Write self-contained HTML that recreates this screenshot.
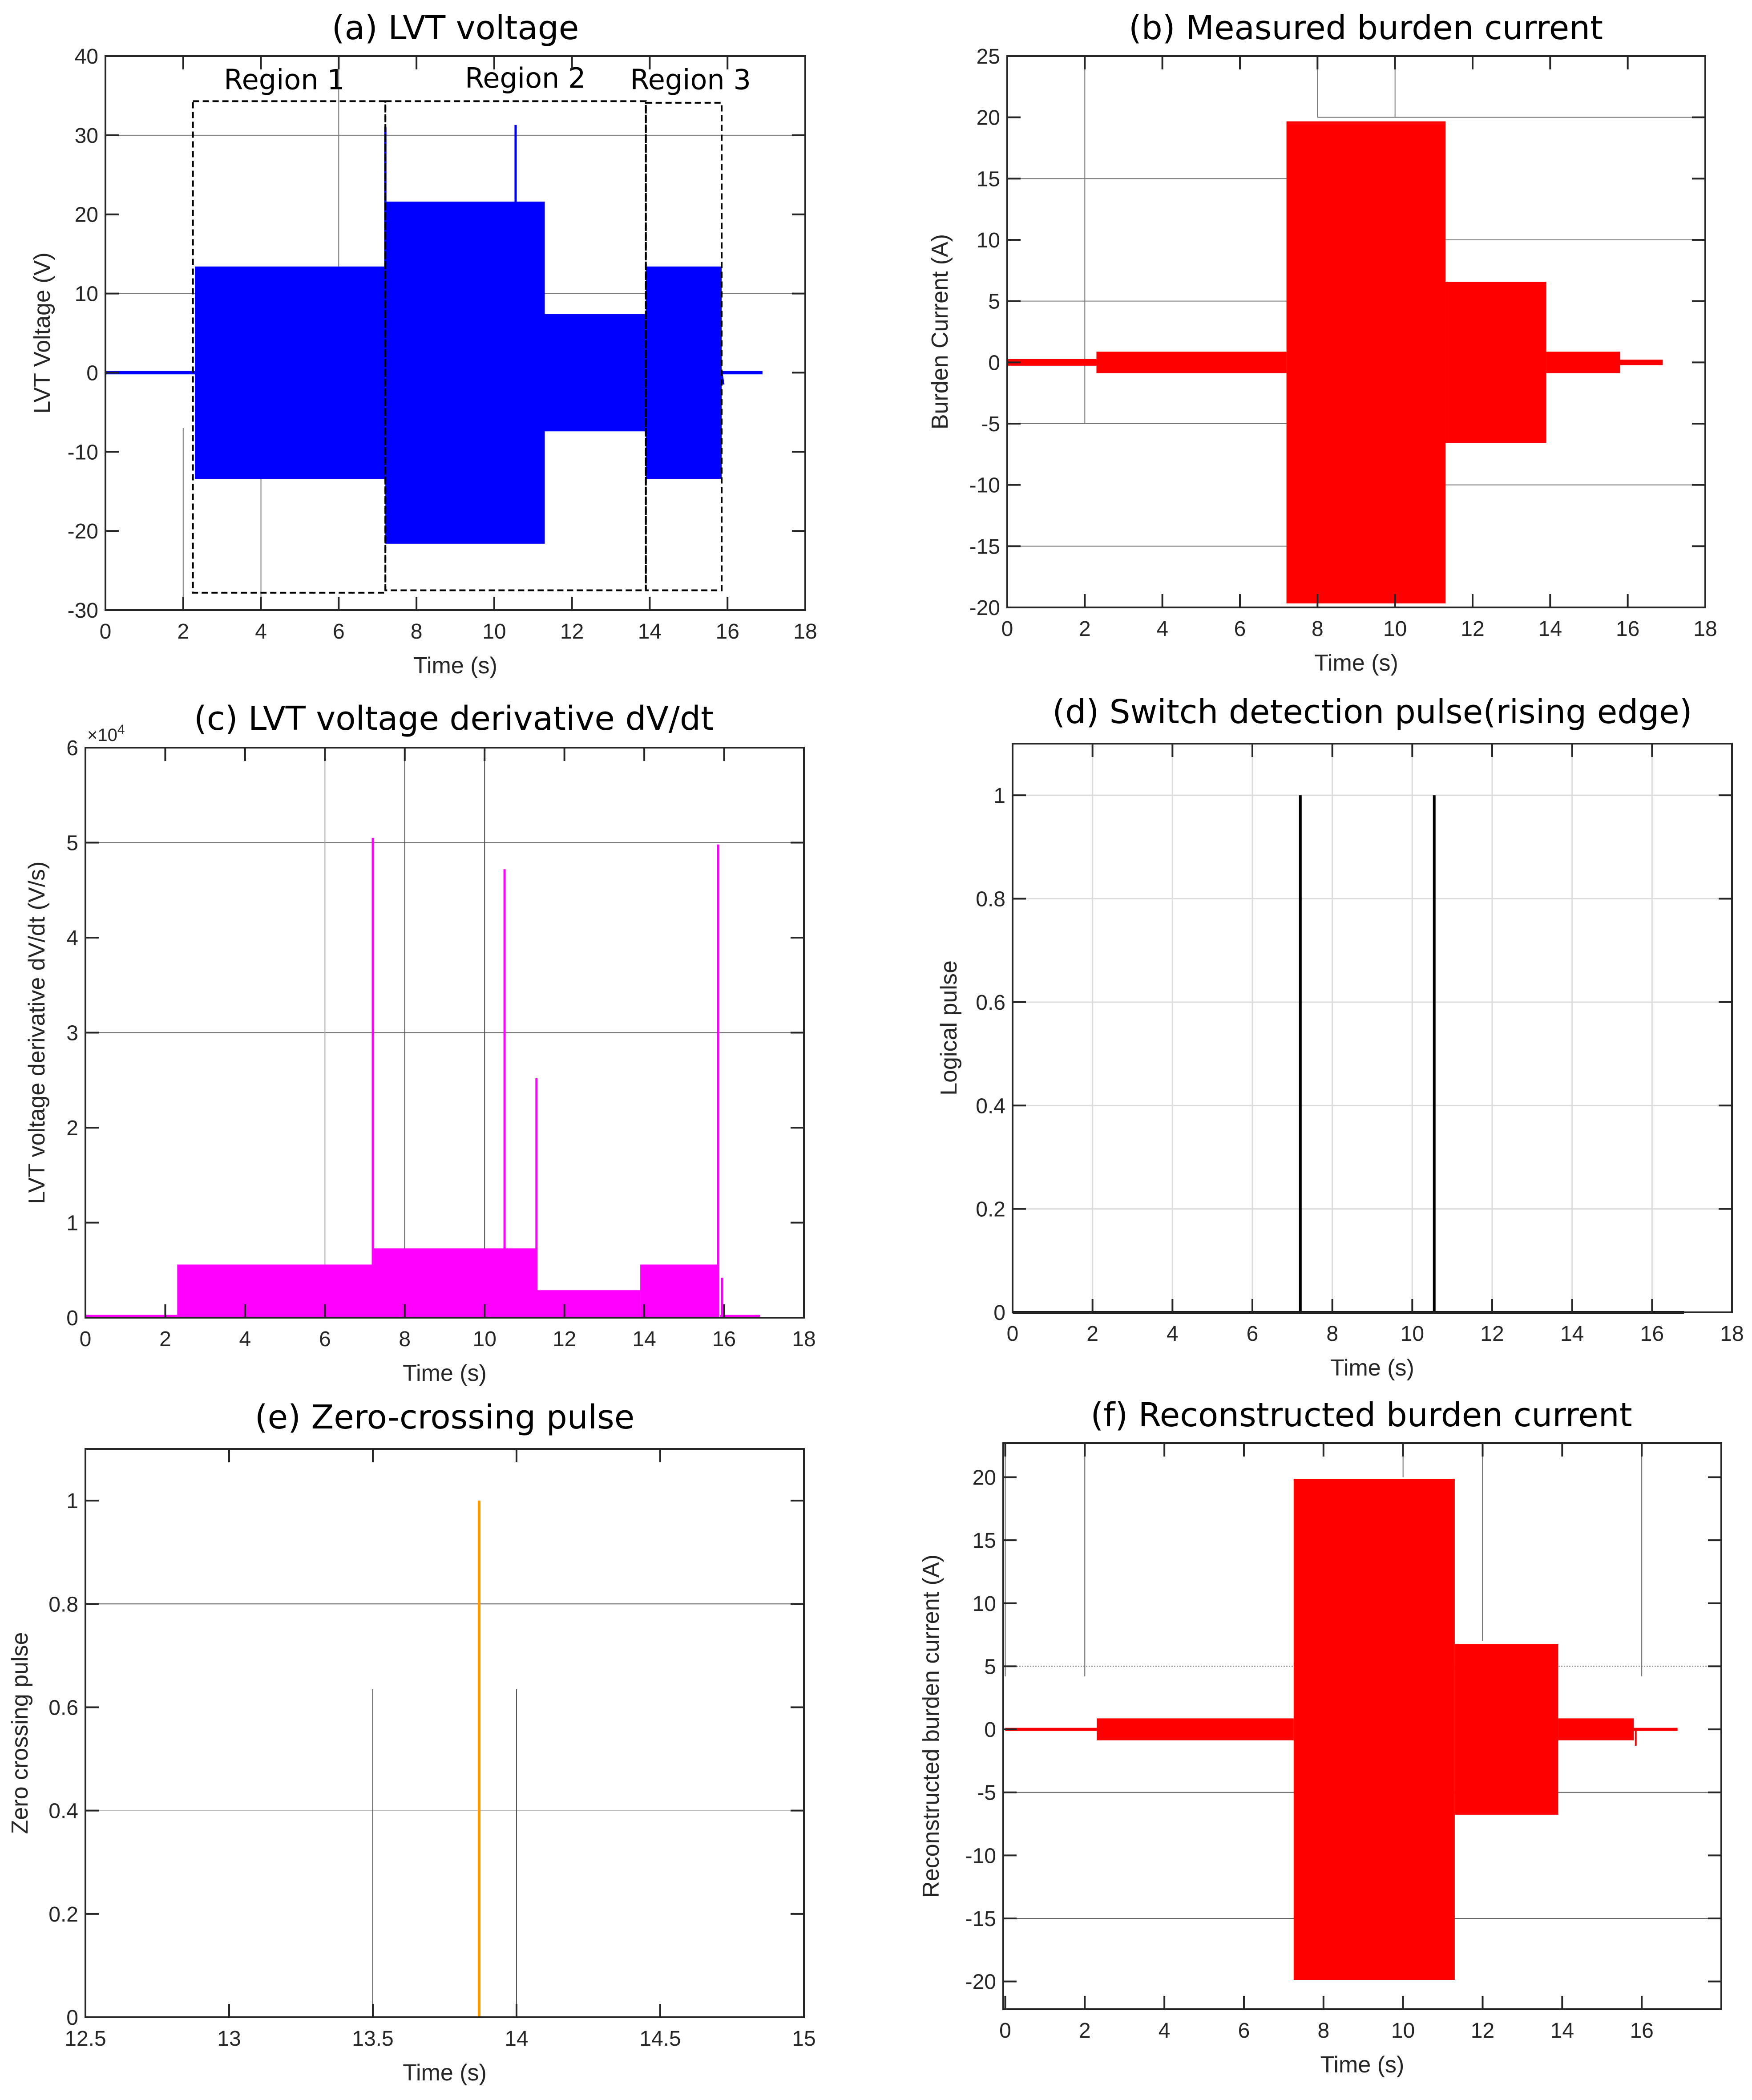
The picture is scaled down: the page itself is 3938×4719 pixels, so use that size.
<!DOCTYPE html>
<html><head><meta charset="utf-8"><style>
html,body{margin:0;padding:0;background:#fff}
svg{display:block}
text{font-family:"Liberation Sans",sans-serif;fill:#262626}
.t{font-family:"DejaVu Sans","Liberation Sans",sans-serif;fill:#000}
</style></head><body>
<svg id="fig" width="3938" height="4719" viewBox="0 0 3938 4719" xmlns="http://www.w3.org/2000/svg"></svg>
<script>
// ---- panel (a) data ----
const aSegStart=[0,2.3,7.2,11.3,13.9,15.85];
const aSegEnd=[2.3,7.2,11.3,13.9,15.85,16.9];
const aSegAmp=[0.1,13.3,21.5,7.3,13.3,0.1];
const aSpikeX=[7.2,10.55];
const aSpikeY=[31,31.3];
// ---- panel (b) data ----
const bSegStart=[0,2.3,7.2,11.3,13.9,15.8];
const bSegEnd=[2.3,7.2,11.3,13.9,15.8,16.9];
const bSegAmp=[0.2,0.8,19.6,6.5,0.8,0.15];
// ---- panel (c) data ----
const cSegStart=[0,2.3,7.2,11.3,13.9,15.9];
const cSegEnd=[2.3,7.2,11.3,13.9,15.85,16.9];
const cSegVal=[0.02,0.55,0.72,0.28,0.55,0.02];
const cSpikeX=[7.2,10.5,11.3,15.85,15.95];
const cSpikeY=[5.05,4.72,2.52,4.98,0.42];
// ---- panel (d) data ----
const dPulseX=[7.2,10.55];
const dPulseY=[1,1];
const dEnd=16.8;
// ---- panel (e) data ----
const ePulseX=[13.87];
const ePulseY=[1];
// ---- panel (f) data ----
const fSegStart=[0,2.3,7.25,11.3,13.9,15.8];
const fSegEnd=[2.3,7.25,11.3,13.9,15.8,16.9];
const fSegAmp=[0.05,0.8,19.8,6.7,0.8,0.05];
// tick labels
const tickX18=[0,2,4,6,8,10,12,14,16,18];
const tickXf=[0,2,4,6,8,10,12,14,16];
const tickYa=[-30,-20,-10,0,10,20,30,40];
const tickYb=[-20,-15,-10,-5,0,5,10,15,20,25];
const tickYc=[0,1,2,3,4,5,6];
const tickYd=[0,0.2,0.4,0.6,0.8,1];
const tickXe=[12.5,13,13.5,14,14.5,15];
const tickYf=[-20,-15,-10,-5,0,5,10,15,20];

const NS='http://www.w3.org/2000/svg';
const svg=document.getElementById('fig');
function mk(tag,attrs,parent){const e=document.createElementNS(NS,tag);for(const k in attrs)e.setAttribute(k,attrs[k]);(parent||svg).appendChild(e);return e;}
function axes(o){
  const g=mk('g',{});
  
  
  const sx=v=>o.L+(v-o.x0)/(o.x1-o.x0)*(o.R-o.L);
  const sy=v=>o.B-(v-o.y0)/(o.y1-o.y0)*(o.B-o.T);
  o.sx=sx;o.sy=sy;o.g=g;
  if(o.fullGrid){
    o.xt.forEach(v=>{const l=mk('line',{x1:sx(v),x2:sx(v),y1:o.T,y2:o.B,stroke:'#dcdcdc','stroke-width':3},g);});
    o.yt.forEach(v=>{const l=mk('line',{x1:o.L,x2:o.R,y1:sy(v),y2:sy(v),stroke:'#dcdcdc','stroke-width':3},g);});
  }
  return o;
}
function frame(o){
  const g=o.g;
  const r=mk('rect',{x:o.L,y:o.T,width:o.R-o.L,height:o.B-o.T,fill:'none',stroke:'#262626','stroke-width':4},g);
  
  
  const tl=30;
  o.xt.forEach((v,i)=>{const x=o.sx(v);
    mk('line',{x1:x,x2:x,y1:o.B,y2:o.B-tl,stroke:'#262626','stroke-width':4},g);
    mk('line',{x1:x,x2:x,y1:o.T,y2:o.T+tl,stroke:'#262626','stroke-width':4},g);
    const t=mk('text',{x:x,y:o.B+64,'font-size':48,'text-anchor':'middle'},g);t.textContent=v;
    
    });
  o.yt.forEach(v=>{const y=o.sy(v);
    mk('line',{x1:o.L,x2:o.L+tl,y1:y,y2:y,stroke:'#262626','stroke-width':4},g);
    mk('line',{x1:o.R,x2:o.R-tl,y1:y,y2:y,stroke:'#262626','stroke-width':4},g);
    const t=mk('text',{x:o.L-16,y:y+17,'font-size':48,'text-anchor':'end'},g);t.textContent=v;
    
    });
  const xt=mk('text',{x:(o.L+o.R)/2,y:o.B+142,'font-size':52,'text-anchor':'middle'},g);xt.textContent='Time (s)';
  
  
  const yx=o.yLabelX, yy=(o.T+o.B)/2;
  const yt=mk('text',{x:yx,y:yy,'font-size':52,'text-anchor':'middle',transform:`rotate(-90 ${yx} ${yy})`},g);yt.textContent=o.ylab;
  
  
  const tt=mk('text',{x:o.titleX||(o.L+o.R)/2,y:o.titleY,'font-size':74,'text-anchor':'middle',class:'t'},g);tt.textContent=o.title;
  
  
}
function line(o,x1,y1,x2,y2,col,w,name,dash){const l=mk('line',{x1:o.sx(x1),y1:o.sy(y1),x2:o.sx(x2),y2:o.sy(y2),stroke:col,'stroke-width':w},o.g);if(dash)l.setAttribute('stroke-dasharray',dash);
  
  return l;}
function envelope(o,S,E,A,col,sym){
  S.forEach((s,i)=>{const lo=sym?-A[i]:0;const top=o.sy(A[i]),bot=o.sy(lo);
    const r=mk('rect',{x:o.sx(s),y:Math.min(top,bot)-2,width:Math.max(o.sx(E[i])-o.sx(s),2),height:Math.max(Math.abs(bot-top),3)+4,fill:col},o.g);
    
    });
}

// ---- (a) ----
const A=axes({name:'panel-a-lvt-voltage',L:237,R:1810,T:126,B:1371,x0:0,x1:18,y0:-30,y1:40,xt:tickX18,yt:tickYa,ylab:'LVT Voltage (V)',yLabelX:112,title:'(a) LVT voltage',titleY:88});
line(A,0,30,18,30,'#777',2,'ref-line');line(A,0,10,18,10,'#777',2,'ref-line');
line(A,6,40,6,13,'#777',2,'ref-line');line(A,4,-13,4,-30,'#777',2,'ref-line');line(A,2,-7,2,-30,'#777',2,'ref-line');
envelope(A,aSegStart,aSegEnd,aSegAmp,'#0000ff',true);
aSpikeX.forEach((x,i)=>line(A,x,0,x,aSpikeY[i],'#0000ff',5,'voltage-spike'));
line(A,15.85,0,15.9,-1.5,'#0000ff',4,'voltage-tail');
[[2.25,7.2,34.3,-27.8],[7.2,13.9,34.3,-27.5],[13.9,15.85,34.1,-27.5]].forEach(b=>{
  const r=mk('rect',{x:A.sx(b[0]),y:A.sy(b[2]),width:A.sx(b[1])-A.sx(b[0]),height:A.sy(b[3])-A.sy(b[2]),fill:'none',stroke:'#000','stroke-width':4,'stroke-dasharray':'14 8'},A.g);
  
  });
[['Region 1',4.6,35.8],['Region 2',10.8,36],['Region 3',15.05,35.8]].forEach(t=>{const e=mk('text',{x:A.sx(t[1]),y:A.sy(t[2]),'font-size':62,'text-anchor':'middle',class:'t'},A.g);e.textContent=t[0];
  
  });
frame(A);

// ---- (b) ----
const Bp=axes({name:'panel-b-measured-burden-current',L:2264,R:3833,T:126,B:1365,x0:0,x1:18,y0:-20,y1:25,xt:tickX18,yt:tickYb,ylab:'Burden Current (A)',yLabelX:2130,title:'(b) Measured burden current',titleY:88,titleX:3070});
line(Bp,8,20,18,20,'#777',2,'ref-line');line(Bp,0,15,7.2,15,'#777',2,'ref-line');line(Bp,11.3,10,18,10,'#777',2,'ref-line');
line(Bp,0,5,7.2,5,'#777',2,'ref-line');line(Bp,0,-5,7.2,-5,'#777',2,'ref-line');line(Bp,11.3,-10,18,-10,'#777',2,'ref-line');line(Bp,0,-15,7.2,-15,'#777',2,'ref-line');
line(Bp,2,25,2,-5,'#777',2,'ref-line');line(Bp,8,25,8,20,'#777',2,'ref-line');line(Bp,10,25,10,20,'#777',2,'ref-line');
envelope(Bp,bSegStart,bSegEnd,bSegAmp,'#ff0000',true);
frame(Bp);

// ---- (c) ----
const C=axes({name:'panel-c-voltage-derivative',L:192,R:1807,T:1680,B:2961,x0:0,x1:18,y0:0,y1:6,xt:tickX18,yt:tickYc,ylab:'LVT voltage derivative dV/dt (V/s)',yLabelX:100,title:'(c) LVT voltage derivative dV/dt',titleX:1020,titleY:1640});
line(C,0,5,18,5,'#666',2,'ref-line');line(C,0,3,18,3,'#666',2,'ref-line');
line(C,6,6,6,0,'#aaa',2,'ref-line');line(C,8,6,8,0,'#555',2,'ref-line');line(C,10,6,10,0,'#555',2,'ref-line');
envelope(C,cSegStart,cSegEnd,cSegVal,'#ff00ff',false);
cSpikeX.forEach((x,i)=>line(C,x,0,x,cSpikeY[i],'#ff00ff',5,'derivative-spike'));
const ex=mk('text',{x:196,y:1665,'font-size':40},C.g);ex.innerHTML='×10<tspan dy="-16" font-size="30">4</tspan>';


frame(C);

// ---- (d) ----
const D=axes({name:'panel-d-switch-detection-pulse',L:2276,R:3893,T:1671,B:2949,x0:0,x1:18,y0:0,y1:1.1,xt:tickX18,yt:tickYd,ylab:'Logical pulse',yLabelX:2150,title:'(d) Switch detection pulse(rising edge)',titleY:1625,fullGrid:true});
line(D,0,0,dEnd,0,'#000',6,'pulse-baseline');
dPulseX.forEach((x,i)=>line(D,x,0,x,dPulseY[i],'#000',6,'detection-pulse'));
frame(D);

// ---- (e) ----
const Ep=axes({name:'panel-e-zero-crossing-pulse',L:192,R:1807,T:3256,B:4533,x0:12.5,x1:15,y0:0,y1:1.1,xt:tickXe,yt:tickYd,ylab:'Zero crossing pulse',yLabelX:62,title:'(e) Zero-crossing pulse',titleY:3210});
line(Ep,12.5,0.8,15,0.8,'#555',2,'ref-line');line(Ep,12.5,0.4,15,0.4,'#bbb',2,'ref-line');
line(Ep,13.5,0,13.5,0.635,'#555',2,'ref-line');line(Ep,14,0,14,0.635,'#555',2,'ref-line');
ePulseX.forEach((x,i)=>line(Ep,x,0,x,ePulseY[i],'#ff9900',6,'zero-crossing-pulse'));
frame(Ep);

// ---- (f) ----
const F=axes({name:'panel-f-reconstructed-burden-current',L:2255,R:3869,T:3243,B:4515,x0:-0.05,x1:18,y0:-22.2,y1:22.7,xt:tickXf,yt:tickYf,ylab:'Reconstructed burden current (A)',yLabelX:2110,title:'(f) Reconstructed burden current',titleY:3205,titleX:3060});
line(F,-0.05,5,18,5,'#888',2,'ref-line','3 3');line(F,-0.05,-5,18,-5,'#666',2,'ref-line');line(F,-0.05,-15,18,-15,'#666',2,'ref-line');
line(F,0,22.7,0,4.2,'#666',2,'ref-line');line(F,2,22.7,2,4.2,'#666',2,'ref-line');line(F,16,22.7,16,4.2,'#666',2,'ref-line');
line(F,10,22.7,10,20,'#666',2,'ref-line');line(F,12,22.7,12,7,'#666',2,'ref-line');
envelope(F,fSegStart,fSegEnd,fSegAmp,'#ff0000',true);
line(F,15.85,0,15.85,-1.3,'#ff0000',4,'current-tail');
frame(F);
</script>
</body></html>
